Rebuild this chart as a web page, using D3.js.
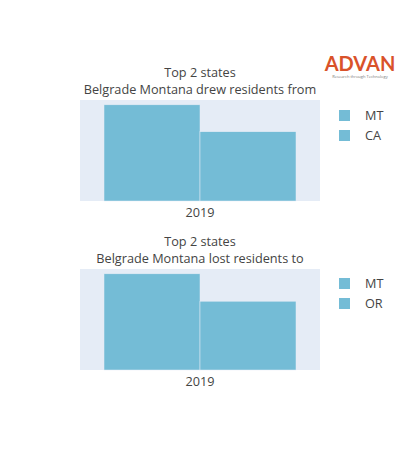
<!DOCTYPE html>
<html>
<head>
<meta charset="utf-8">
<script src="https://cdn.jsdelivr.net/npm/d3@7"></script>
<style>
  body { margin: 0; background: #fff; }
  text { font-family: "Open Sans", sans-serif; fill: #444; }
</style>
</head>
<body>
<svg id="chart" width="400" height="450"></svg>
<script>
// data (relative values, y axis is hidden)
var yearLabels = ["2019"];
var drewStates = ["MT", "CA"];
var drewValues = [100, 72];
var lostStates = ["MT", "OR"];
var lostValues = [100, 71.5];

var panels = [
    {title: ["Top 2 states", "Belgrade Montana drew residents from"], states: drewStates, values: drewValues, top: 100},
    {title: ["Top 2 states", "Belgrade Montana lost residents to"], states: lostStates, values: lostValues, top: 269}
];

const svg = d3.select("#chart");
const BAR = "#74bcd6";
const FS = "12.7px";
const plotLeft = 80, plotWidth = 240, plotHeight = 101;

/*
 * Logo
 */
svg.append("text").attr("x", 360).attr("y", 71).attr("text-anchor", "middle")
    .style("font-family", "Lato, sans-serif").style("font-size", "20px").style("font-weight", "700")
    .style("fill", "#d9522a").text("ADVAN");
svg.append("text").attr("x", 360).attr("y", 78).attr("text-anchor", "middle")
    .style("font-size", "4px").style("fill", "#777").text("Research through Technology");

panels.forEach(function (p) {
    const g = svg.append("g").attr("transform", `translate(${plotLeft},${p.top})`);
    g.append("rect").attr("width", plotWidth).attr("height", plotHeight).attr("fill", "#e5ecf6");

    const x0 = d3.scaleBand().domain(yearLabels).range([0, plotWidth]).paddingInner(0.2).paddingOuter(0.1);
    const x1 = d3.scaleBand().domain(p.states).range([0, x0.bandwidth()]);
    const y = d3.scaleLinear().domain([0, d3.max(p.values) * 1.05]).range([plotHeight, 0]);

    g.selectAll("rect.bar").data(p.values).enter().append("rect")
        .attr("class", "bar")
        .attr("x", (d, i) => x0("2019") + x1(p.states[i]))
        .attr("width", x1.bandwidth())
        .attr("y", d => y(d))
        .attr("height", d => plotHeight - y(d))
        .attr("fill", BAR)
        .attr("stroke", "#e5ecf6").attr("stroke-width", 0.5);

    const xAxis = g.append("g").attr("transform", `translate(0,${plotHeight})`)
        .call(d3.axisBottom(x0).tickSize(0).tickPadding(7));
    xAxis.select(".domain").remove();
    xAxis.selectAll("text").style("font-size", FS).style("font-family", "Open Sans, sans-serif").attr("fill", "#444");

    p.title.forEach(function (t, i) {
        g.append("text").attr("x", plotWidth / 2).attr("y", -23 + i * 17)
            .attr("text-anchor", "middle").style("font-size", FS).text(t);
    });

    const leg = g.selectAll("g.leg").data(p.states).enter().append("g")
        .attr("transform", (d, i) => `translate(259,${10 + i * 20 - (p.top > 200 ? 1 : 0)})`);
    leg.append("rect").attr("width", 11).attr("height", 11).attr("fill", BAR);
    leg.append("text").attr("x", 26).attr("y", 10).style("font-size", FS).text(d => d);
});
</script>
</body>
</html>
